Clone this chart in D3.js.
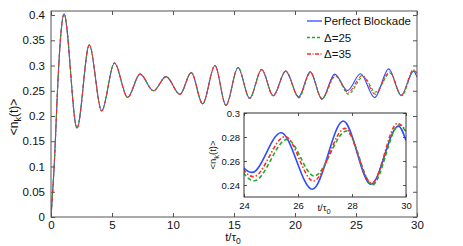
<!DOCTYPE html>
<html><head><meta charset="utf-8">
<script src="https://cdn.jsdelivr.net/npm/d3@7"></script>
<style>body{margin:0;background:#fff}svg{display:block;font-family:"Liberation Sans",Arial,sans-serif}</style>
</head><body>
<svg id="c" width="463" height="246"></svg>
<script>
// ---- data (t/τ0, <n_k(t)>): extrema + a few rise points ----
const early = [[0,0],[0.3,0.12],[0.55,0.26],[0.8,0.36],[1.07,0.402],[2.13,0.176],[3.14,0.341],[4.15,0.21],
  [5.2,0.305],[6.28,0.237],[7.3,0.283],[8.4,0.25],[9.43,0.278],[10.57,0.243],[11.5,0.286],[12.43,0.224],
  [13.44,0.3],[14.34,0.221],[15.33,0.296],[16.28,0.235],[17.27,0.292],[18.21,0.24],[19.24,0.289]];
const blueLate  = [[20.3,0.238],[21.25,0.288],[22.2,0.233],[23.25,0.283],[24.3,0.2505],[25.37,0.2836],[26.53,0.2364],[27.68,0.2933],[28.7,0.2406],[29.72,0.289],[30,0.277]];
const redLate   = [[20.3,0.237],[21.25,0.287],[22.2,0.234],[23.3,0.281],[24.35,0.247],[25.52,0.2803],[26.57,0.2433],[27.74,0.2872],[28.73,0.2414],[29.69,0.2914],[30,0.285]];
const greenLate = [[20.32,0.236],[21.27,0.286],[22.22,0.235],[23.32,0.279],[24.38,0.2435],[25.6,0.278],[26.6,0.2475],[27.8,0.285],[28.75,0.24],[29.75,0.29],[30,0.284]];
const seriesNames = ["Perfect Blockade","\u0394=25","\u0394=35"];
const xTicks = [0,5,10,15,20,25,30];
const yTicks = [0,0.05,0.1,0.15,0.2,0.25,0.3,0.35,0.4];
const insetXTicks = [24,26,28,30];
const insetYTicks = [0.24,0.26,0.28,0.3];

const series = [
  {name:seriesNames[0], data:early.concat(blueLate),  color:"#2b4cff", dash:null,      idash:null},
  {name:seriesNames[1], data:early.concat(greenLate), color:"#22aa22", dash:"3,2",     idash:"4,2.5"},
  {name:seriesNames[2], data:early.concat(redLate),   color:"#ff2a2a", dash:"4,1.5,1,1.5", idash:"4,2,1.5,2"}
];

const svg = d3.select("#c");
const axisColor = "#555";
const M = {l:51, r:417, t:11, b:217};
const x = d3.scaleLinear().domain([0,30]).range([M.l,M.r]);
const y = d3.scaleLinear().domain([0,0.408]).range([M.b,M.t]);

svg.append("defs").append("clipPath").attr("id","mclip").append("rect")
  .attr("x",M.l).attr("y",M.t).attr("width",M.r-M.l).attr("height",M.b-M.t);

const line = (sx,sy)=>d3.line().x(d=>sx(d[0])).y(d=>sy(d[1])).curve(d3.curveMonotoneX);

const gm = svg.append("g").attr("clip-path","url(#mclip)");
series.forEach(s=>{
  gm.append("path").attr("d",line(x,y)(s.data)).attr("fill","none")
    .attr("stroke",s.color).attr("stroke-width",1.1).attr("stroke-dasharray",s.dash);
});

function styleAxis(g,fs){
  g.select(".domain").remove();
  g.selectAll(".tick line").attr("stroke",axisColor);
  g.selectAll(".tick text").attr("fill","#111").style("font-size",fs+"px").style("font-family","Liberation Sans, Arial, sans-serif");
}
const fmt = d=> d===0?"0":String(+d.toFixed(2));
// main axes
const gx = svg.append("g").attr("transform",`translate(0,${M.b})`)
  .call(d3.axisBottom(x).tickValues(xTicks).tickSizeInner(-4).tickSizeOuter(0).tickPadding(4).tickFormat(d=>d));
styleAxis(gx,11.5);
const gxt = svg.append("g").attr("transform",`translate(0,${M.t})`)
  .call(d3.axisTop(x).tickValues(xTicks).tickSizeInner(-4).tickSizeOuter(0).tickFormat(""));
styleAxis(gxt,11);
const gy = svg.append("g").attr("transform",`translate(${M.l},0)`)
  .call(d3.axisLeft(y).tickValues(yTicks).tickSizeInner(-4).tickSizeOuter(0).tickPadding(6).tickFormat(fmt));
styleAxis(gy,11.5);
const gyr = svg.append("g").attr("transform",`translate(${M.r},0)`)
  .call(d3.axisRight(y).tickValues(yTicks).tickSizeInner(-4).tickSizeOuter(0).tickFormat(""));
styleAxis(gyr,11);
svg.append("rect").attr("x",M.l).attr("y",M.t).attr("width",M.r-M.l).attr("height",M.b-M.t)
  .attr("fill","none").attr("stroke",axisColor).attr("stroke-width",1);

// main labels
const xl = svg.append("text").attr("x",233).attr("y",241).attr("text-anchor","middle").style("font-size","11.5px").attr("fill","#111");
xl.append("tspan").text("t/\u03c4");
xl.append("tspan").attr("dy",3).style("font-size","8.5px").text("0");
const yl = svg.append("text").attr("transform","translate(18,117) rotate(-90)").attr("text-anchor","middle").style("font-size","12px").attr("fill","#111");
yl.append("tspan").text("<n");
yl.append("tspan").attr("dy",3).style("font-size","9px").text("k");
yl.append("tspan").attr("dy",-3).text("(t)>");

// legend
const lg = svg.append("g");
series.forEach((s,i)=>{
  const yy = 21 + i*16.5;
  lg.append("line").attr("x1",307).attr("x2",322).attr("y1",yy).attr("y2",yy)
    .attr("stroke",s.color).attr("stroke-width",1.3).attr("stroke-dasharray",s.dash);
  lg.append("text").attr("x",324).attr("y",yy+4).style("font-size","11.5px").attr("fill","#111").text(s.name);
});

// inset
const I = {l:244, r:406, t:113, b:197};
const xi = d3.scaleLinear().domain([24,30]).range([I.l,I.r]);
const yi = d3.scaleLinear().domain([0.23,0.30]).range([I.b,I.t]);
svg.append("rect").attr("x",I.l).attr("y",I.t).attr("width",I.r-I.l).attr("height",I.b-I.t).attr("fill","#fff");
svg.select("defs").append("clipPath").attr("id","iclip").append("rect")
  .attr("x",I.l).attr("y",I.t).attr("width",I.r-I.l).attr("height",I.b-I.t);
const gi = svg.append("g").attr("clip-path","url(#iclip)");
series.forEach(s=>{
  gi.append("path").attr("d",line(xi,yi)(s.data.filter(d=>d[0]>=23))).attr("fill","none")
    .attr("stroke",s.color).attr("stroke-width",1.6).attr("stroke-dasharray",s.idash);
});
const gix = svg.append("g").attr("transform",`translate(0,${I.b})`)
  .call(d3.axisBottom(xi).tickValues(insetXTicks).tickSizeInner(-3).tickSizeOuter(0).tickPadding(5).tickFormat(d=>d));
styleAxis(gix,9.5);
const gixt = svg.append("g").attr("transform",`translate(0,${I.t})`)
  .call(d3.axisTop(xi).tickValues(insetXTicks).tickSizeInner(-3).tickSizeOuter(0).tickFormat(""));
styleAxis(gixt,9);
const giy = svg.append("g").attr("transform",`translate(${I.l},0)`)
  .call(d3.axisLeft(yi).tickValues(insetYTicks).tickSizeInner(-3).tickSizeOuter(0).tickPadding(4).tickFormat(d=>String(+d.toFixed(2))));
styleAxis(giy,9.5);
const giyr = svg.append("g").attr("transform",`translate(${I.r},0)`)
  .call(d3.axisRight(yi).tickValues(insetYTicks).tickSizeInner(-3).tickSizeOuter(0).tickFormat(""));
styleAxis(giyr,9);
svg.append("rect").attr("x",I.l).attr("y",I.t).attr("width",I.r-I.l).attr("height",I.b-I.t)
  .attr("fill","none").attr("stroke","#333").attr("stroke-width",1);
const ixl = svg.append("text").attr("x",324).attr("y",211).attr("text-anchor","middle").style("font-size","9.5px").attr("fill","#111");
ixl.append("tspan").text("t/\u03c4");
ixl.append("tspan").attr("dy",3).style("font-size","7.5px").text("0");
const iyl = svg.append("text").attr("transform","translate(216,155) rotate(-90)").attr("text-anchor","middle").style("font-size","9.5px").attr("fill","#111");
iyl.append("tspan").text("<n");
iyl.append("tspan").attr("dy",2.5).style("font-size","7.5px").text("k");
iyl.append("tspan").attr("dy",-2.5).text("(t)>");
</script>
</body></html>
